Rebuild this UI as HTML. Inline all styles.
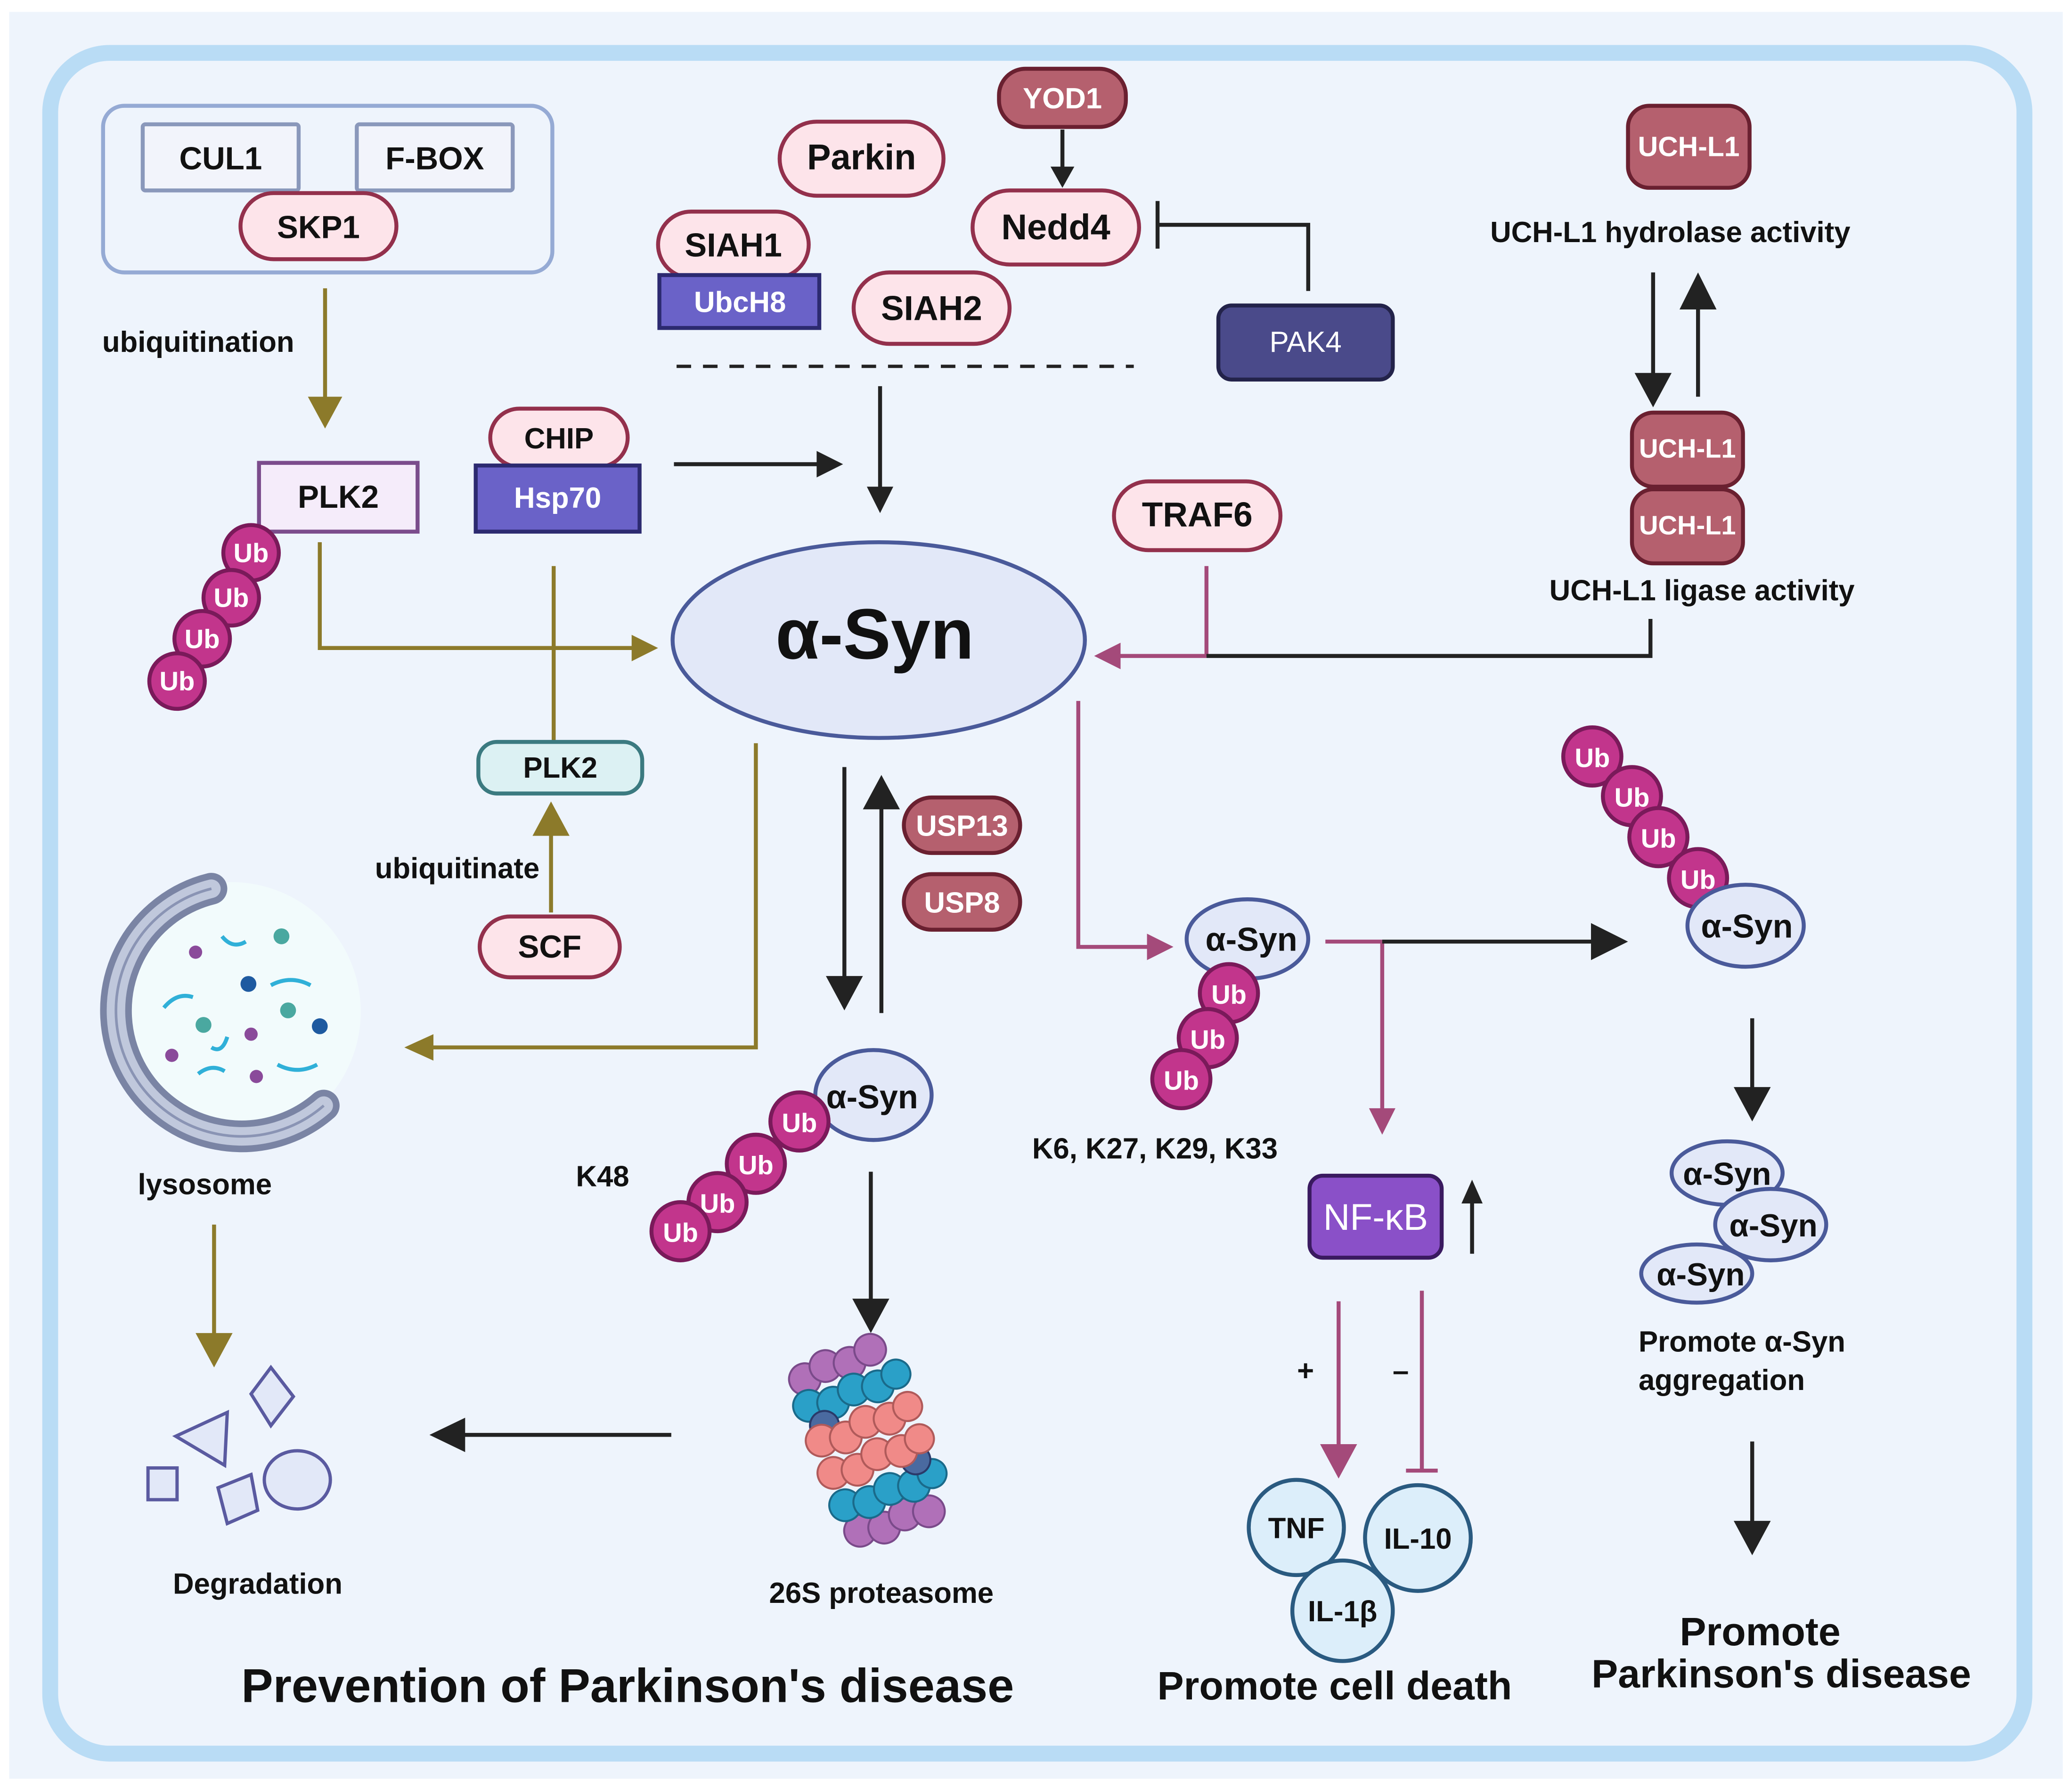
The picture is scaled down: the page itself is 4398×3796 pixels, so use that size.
<!DOCTYPE html>
<html><head><meta charset="utf-8"><style>
html,body{margin:0;padding:0;background:#fff}
svg{display:block}
text{font-family:"Liberation Sans",sans-serif;font-weight:bold;fill:#111}
</style></head><body>
<svg width="4398" height="3796" viewBox="0 0 1568 1352" preserveAspectRatio="none" xmlns="http://www.w3.org/2000/svg">
<rect x="0" y="0" width="1568" height="1352" fill="#fff"/>
<rect x="7" y="9" width="1554" height="1336" fill="#eef4fc"/>
<rect x="38" y="40" width="1494" height="1286" rx="45" fill="#eef4fc" stroke="#b9dcf5" stroke-width="12"/>

<!-- SCF complex -->
<rect x="78" y="80" width="340" height="126" rx="16" fill="none" stroke="#95aad4" stroke-width="3"/>
<rect x="108" y="94" width="118" height="50" rx="2" fill="#f2f4fb" stroke="#8a98bb" stroke-width="3"/>
<text x="167" y="128" font-size="24" text-anchor="middle">CUL1</text>
<rect x="270" y="94" width="118" height="50" rx="2" fill="#f2f4fb" stroke="#8a98bb" stroke-width="3"/>
<text x="329" y="128" font-size="24" text-anchor="middle">F-BOX</text>
<rect x="182" y="146" width="118" height="50" rx="25" fill="#fde4ea" stroke="#93304c" stroke-width="3"/>
<text x="241" y="180" font-size="24" text-anchor="middle">SKP1</text>

<text x="150" y="266" font-size="22" text-anchor="middle">ubiquitination</text>
<line x1="246" y1="218" x2="246" y2="304" stroke="#8c7a2a" stroke-width="3"/>
<path d="M233,300 L259,300 L246,324z" fill="#8c7a2a"/>

<rect x="196" y="350" width="120" height="52" fill="#f5ecfa" stroke="#7b4c8c" stroke-width="3"/>
<text x="256" y="384" font-size="24" text-anchor="middle">PLK2</text>

<circle cx="190" cy="418" r="21" fill="#c2358c" stroke="#7a1a5a" stroke-width="3"/><text x="190" y="425" font-size="20" text-anchor="middle" style="fill:#fff">Ub</text>
<circle cx="175" cy="452" r="21" fill="#c2358c" stroke="#7a1a5a" stroke-width="3"/><text x="175" y="459" font-size="20" text-anchor="middle" style="fill:#fff">Ub</text>
<circle cx="153" cy="483" r="21" fill="#c2358c" stroke="#7a1a5a" stroke-width="3"/><text x="153" y="490" font-size="20" text-anchor="middle" style="fill:#fff">Ub</text>
<circle cx="134" cy="515" r="21" fill="#c2358c" stroke="#7a1a5a" stroke-width="3"/><text x="134" y="522" font-size="20" text-anchor="middle" style="fill:#fff">Ub</text>

<polyline points="242,410 242,490 482,490" fill="none" stroke="#8c7a2a" stroke-width="3"/>
<path d="M478,480 L498,490 L478,500z" fill="#8c7a2a"/>

<rect x="371" y="309" width="104" height="44" rx="22" fill="#fde4ea" stroke="#93304c" stroke-width="3"/>
<text x="423" y="339" font-size="22" text-anchor="middle">CHIP</text>
<rect x="360" y="352" width="124" height="50" fill="#6a62c8" stroke="#2c2a70" stroke-width="3"/>
<text x="422" y="384" font-size="22" text-anchor="middle" style="fill:#fff">Hsp70</text>
<line x1="510" y1="351" x2="622" y2="351" stroke="#222" stroke-width="3"/>
<path d="M618,341 L638,351 L618,361z" fill="#222"/>
<line x1="419" y1="428" x2="419" y2="560" stroke="#8c7a2a" stroke-width="3"/>

<rect x="362" y="561" width="124" height="39" rx="14" fill="#dcf1f3" stroke="#3b7a80" stroke-width="3"/>
<text x="424" y="588" font-size="22" text-anchor="middle">PLK2</text>
<line x1="417" y1="690" x2="417" y2="630" stroke="#8c7a2a" stroke-width="3"/>
<path d="M403,632 L417,606 L431,632z" fill="#8c7a2a"/>
<text x="346" y="664" font-size="22" text-anchor="middle">ubiquitinate</text>
<rect x="363" y="693" width="106" height="46" rx="23" fill="#fde4ea" stroke="#93304c" stroke-width="3"/>
<text x="416" y="724" font-size="24" text-anchor="middle">SCF</text>

<rect x="590" y="92" width="124" height="56" rx="28" fill="#fde4ea" stroke="#93304c" stroke-width="3"/>
<text x="652" y="128" font-size="27" text-anchor="middle">Parkin</text>
<rect x="498" y="160" width="114" height="50" rx="25" fill="#fde4ea" stroke="#93304c" stroke-width="3"/>
<text x="555" y="194" font-size="25" text-anchor="middle">SIAH1</text>
<rect x="499" y="208" width="121" height="40" fill="#6a62c8" stroke="#2c2a70" stroke-width="3"/>
<text x="560" y="236" font-size="22" text-anchor="middle" style="fill:#fff">UbcH8</text>
<rect x="646" y="206" width="118" height="54" rx="27" fill="#fde4ea" stroke="#93304c" stroke-width="3"/>
<text x="705" y="242" font-size="26" text-anchor="middle">SIAH2</text>
<rect x="756" y="52" width="96" height="44" rx="20" fill="#b5606e" stroke="#6a2030" stroke-width="3"/>
<text x="804" y="82" font-size="22" text-anchor="middle" style="fill:#fff">YOD1</text>
<line x1="804" y1="98" x2="804" y2="128" stroke="#222" stroke-width="3"/>
<path d="M795,126 L804,142 L813,126z" fill="#222"/>
<rect x="736" y="144" width="126" height="56" rx="28" fill="#fde4ea" stroke="#93304c" stroke-width="3"/>
<text x="799" y="181" font-size="27" text-anchor="middle">Nedd4</text>
<polyline points="876,170 990,170 990,220" fill="none" stroke="#222" stroke-width="3"/>
<line x1="876" y1="152" x2="876" y2="188" stroke="#222" stroke-width="3"/>
<rect x="922" y="231" width="132" height="56" rx="10" fill="#4a4a8a" stroke="#23234a" stroke-width="3"/>
<text x="988" y="266" font-size="22" text-anchor="middle" style="fill:#fff;font-weight:normal">PAK4</text>
<line x1="512" y1="277" x2="858" y2="277" stroke="#222" stroke-width="2.5" stroke-dasharray="11,9"/>
<line x1="666" y1="292" x2="666" y2="372" stroke="#222" stroke-width="3"/>
<path d="M656,368 L666,388 L676,368z" fill="#222"/>

<ellipse cx="665" cy="484" rx="156" ry="74" fill="#e2e8f8" stroke="#4a5a9a" stroke-width="3"/>
<text x="662" y="498" font-size="54" text-anchor="middle">α-Syn</text>

<rect x="843" y="364" width="126" height="52" rx="26" fill="#fde4ea" stroke="#93304c" stroke-width="3"/>
<text x="906" y="398" font-size="26" text-anchor="middle">TRAF6</text>
<line x1="913" y1="428" x2="913" y2="496" stroke="#a44a7a" stroke-width="3"/>
<line x1="913" y1="496" x2="845" y2="496" stroke="#a44a7a" stroke-width="3"/>
<path d="M848,486 L828,496 L848,506z" fill="#a44a7a"/>
<polyline points="913,496 1249,496 1249,468" fill="none" stroke="#222" stroke-width="3"/>

<rect x="1232" y="80" width="92" height="62" rx="16" fill="#b5606e" stroke="#6a2030" stroke-width="3"/>
<text x="1278" y="118" font-size="21" text-anchor="middle" style="fill:#fff">UCH-L1</text>
<text x="1264" y="183" font-size="22" text-anchor="middle">UCH-L1 hydrolase activity</text>
<line x1="1251" y1="206" x2="1251" y2="290" stroke="#222" stroke-width="3"/>
<path d="M1237,282 L1251,308 L1265,282z" fill="#222"/>
<line x1="1285" y1="300" x2="1285" y2="228" stroke="#222" stroke-width="3"/>
<path d="M1271,234 L1285,206 L1299,234z" fill="#222"/>
<rect x="1235" y="312" width="84" height="56" rx="16" fill="#b5606e" stroke="#6a2030" stroke-width="3"/>
<text x="1277" y="346" font-size="20" text-anchor="middle" style="fill:#fff">UCH-L1</text>
<rect x="1235" y="370" width="84" height="56" rx="16" fill="#b5606e" stroke="#6a2030" stroke-width="3"/>
<text x="1277" y="404" font-size="20" text-anchor="middle" style="fill:#fff">UCH-L1</text>
<text x="1288" y="454" font-size="22" text-anchor="middle">UCH-L1 ligase activity</text>

<polyline points="572,562 572,792 326,792" fill="none" stroke="#8c7a2a" stroke-width="3"/>
<path d="M328,782 L306,792 L328,802z" fill="#8c7a2a"/>
<circle cx="175" cy="765" r="98" fill="#f2fbfc"/>
<path d="M160,672 A95,95 0 1 0 245,836" fill="none" stroke="#7a84a4" stroke-width="24" stroke-linecap="round"/>
<path d="M160,672 A95,95 0 1 0 245,836" fill="none" stroke="#c0c8dc" stroke-width="14" stroke-linecap="round"/>
<path d="M160,672 A95,95 0 1 0 245,836" fill="none" stroke="#8a94b4" stroke-width="2"/>
<g fill="#1e5aa0"><circle cx="188" cy="744" r="6"/><circle cx="242" cy="776" r="6"/></g>
<g fill="#4aa8a0"><circle cx="213" cy="708" r="6"/><circle cx="154" cy="775" r="6"/><circle cx="218" cy="764" r="6"/></g>
<g fill="#8a4a9a"><circle cx="148" cy="720" r="5"/><circle cx="190" cy="782" r="5"/><circle cx="130" cy="798" r="5"/><circle cx="194" cy="814" r="5"/></g>
<g fill="none" stroke="#30b0d8" stroke-width="3"><path d="M168,708 q8,10 18,4"/><path d="M205,745 q15,-8 30,0"/><path d="M124,762 q10,-12 22,-8"/><path d="M150,812 q10,-8 20,-2"/><path d="M210,805 q15,8 30,0"/><path d="M160,792 q8,5 12,-8"/></g>
<text x="155" y="903" font-size="22" text-anchor="middle">lysosome</text>
<line x1="162" y1="926" x2="162" y2="1016" stroke="#8c7a2a" stroke-width="3"/>
<path d="M148,1008 L162,1034 L176,1008z" fill="#8c7a2a"/>

<g fill="#e2e8f8" stroke="#5a5aa0" stroke-width="2.5">
<rect x="112" y="1110" width="22" height="24"/>
<polygon points="133,1086 172,1068 170,1108"/>
<polygon points="190,1054 205,1034 222,1056 205,1078"/>
<polygon points="165,1125 190,1115 195,1142 172,1152"/>
<ellipse cx="225" cy="1119" rx="25" ry="22"/>
</g>
<text x="195" y="1205" font-size="22" text-anchor="middle">Degradation</text>
<line x1="508" y1="1085" x2="345" y2="1085" stroke="#222" stroke-width="3"/>
<path d="M352,1072 L325,1085 L352,1098z" fill="#222"/>

<line x1="639" y1="580" x2="639" y2="745" stroke="#222" stroke-width="3"/>
<path d="M625,738 L639,764 L653,738z" fill="#222"/>
<line x1="667" y1="766" x2="667" y2="610" stroke="#222" stroke-width="3"/>
<path d="M653,612 L667,586 L681,612z" fill="#222"/>
<rect x="684" y="603" width="88" height="42" rx="21" fill="#b5606e" stroke="#6a2030" stroke-width="3"/>
<text x="728" y="632" font-size="22" text-anchor="middle" style="fill:#fff">USP13</text>
<rect x="684" y="661" width="88" height="42" rx="21" fill="#b5606e" stroke="#6a2030" stroke-width="3"/>
<text x="728" y="690" font-size="22" text-anchor="middle" style="fill:#fff">USP8</text>

<ellipse cx="661" cy="828" rx="44" ry="34" fill="#e2e8f8" stroke="#4a5a9a" stroke-width="3"/>
<text x="660" y="838" font-size="25" text-anchor="middle">α-Syn</text>
<circle cx="605" cy="848" r="22" fill="#c2358c" stroke="#7a1a5a" stroke-width="3"/><text x="605" y="856" font-size="20" text-anchor="middle" style="fill:#fff">Ub</text>
<circle cx="572" cy="880" r="22" fill="#c2358c" stroke="#7a1a5a" stroke-width="3"/><text x="572" y="888" font-size="20" text-anchor="middle" style="fill:#fff">Ub</text>
<circle cx="543" cy="909" r="22" fill="#c2358c" stroke="#7a1a5a" stroke-width="3"/><text x="543" y="917" font-size="20" text-anchor="middle" style="fill:#fff">Ub</text>
<circle cx="515" cy="931" r="22" fill="#c2358c" stroke="#7a1a5a" stroke-width="3"/><text x="515" y="939" font-size="20" text-anchor="middle" style="fill:#fff">Ub</text>
<text x="456" y="897" font-size="22" text-anchor="middle">K48</text>
<line x1="659" y1="886" x2="659" y2="990" stroke="#222" stroke-width="3"/>
<path d="M645,982 L659,1008 L673,982z" fill="#222"/>

<!-- proteasome (denser) -->
<g transform="rotate(-20 655 1090)">
<g fill="#b070b8" stroke="#7a4a8a" stroke-width="1.5">
<circle cx="628" cy="1030" r="12"/><circle cx="646" cy="1026" r="12"/><circle cx="664" cy="1030" r="12"/><circle cx="682" cy="1026" r="12"/>
<circle cx="628" cy="1152" r="12"/><circle cx="646" cy="1156" r="12"/><circle cx="664" cy="1152" r="12"/><circle cx="682" cy="1156" r="12"/></g>
<g fill="#2aa0c8" stroke="#1a6a8a" stroke-width="1.5">
<circle cx="624" cy="1050" r="12"/><circle cx="642" cy="1054" r="12"/><circle cx="660" cy="1050" r="12"/><circle cx="678" cy="1054" r="12"/><circle cx="694" cy="1050" r="11"/>
<circle cx="624" cy="1130" r="12"/><circle cx="642" cy="1134" r="12"/><circle cx="660" cy="1130" r="12"/><circle cx="678" cy="1134" r="12"/><circle cx="694" cy="1130" r="11"/></g>
<g fill="#4a6aa0" stroke="#2a3a6a" stroke-width="1.5"><circle cx="630" cy="1068" r="11"/><circle cx="686" cy="1116" r="11"/></g>
<g fill="#f08a88" stroke="#b05a5a" stroke-width="1.5">
<circle cx="624" cy="1078" r="12"/><circle cx="642" cy="1082" r="12"/><circle cx="660" cy="1076" r="12"/><circle cx="678" cy="1080" r="12"/><circle cx="694" cy="1076" r="11"/>
<circle cx="624" cy="1104" r="12"/><circle cx="642" cy="1108" r="12"/><circle cx="660" cy="1102" r="12"/><circle cx="678" cy="1106" r="12"/><circle cx="694" cy="1102" r="11"/></g>
</g>
<text x="667" y="1212" font-size="22" text-anchor="middle">26S proteasome</text>

<text x="475" y="1287" font-size="36" text-anchor="middle">Prevention of Parkinson's disease</text>

<polyline points="816,530 816,716 872,716" fill="none" stroke="#a44a7a" stroke-width="3"/>
<path d="M868,706 L888,716 L868,726z" fill="#a44a7a"/>
<ellipse cx="944" cy="710" rx="46" ry="30" fill="#e2e8f8" stroke="#4a5a9a" stroke-width="3"/>
<text x="947" y="719" font-size="25" text-anchor="middle">α-Syn</text>
<circle cx="930" cy="751" r="22" fill="#c2358c" stroke="#7a1a5a" stroke-width="3"/><text x="930" y="759" font-size="20" text-anchor="middle" style="fill:#fff">Ub</text>
<circle cx="914" cy="785" r="22" fill="#c2358c" stroke="#7a1a5a" stroke-width="3"/><text x="914" y="793" font-size="20" text-anchor="middle" style="fill:#fff">Ub</text>
<circle cx="894" cy="816" r="22" fill="#c2358c" stroke="#7a1a5a" stroke-width="3"/><text x="894" y="824" font-size="20" text-anchor="middle" style="fill:#fff">Ub</text>
<text x="874" y="876" font-size="22" text-anchor="middle">K6, K27, K29, K33</text>
<line x1="1003" y1="712" x2="1046" y2="712" stroke="#a44a7a" stroke-width="3"/>
<line x1="1046" y1="712" x2="1046" y2="842" stroke="#a44a7a" stroke-width="3"/>
<path d="M1036,838 L1046,858 L1056,838z" fill="#a44a7a"/>
<line x1="1046" y1="712" x2="1212" y2="712" stroke="#222" stroke-width="3"/>
<path d="M1204,698 L1232,712 L1204,726z" fill="#222"/>

<rect x="991" y="889" width="100" height="62" rx="10" fill="#8a50c8" stroke="#3a1a60" stroke-width="3"/>
<text x="1041" y="930" font-size="28" text-anchor="middle" style="fill:#fff;font-weight:normal">NF-κB</text>
<line x1="1114" y1="948" x2="1114" y2="908" stroke="#222" stroke-width="3"/>
<path d="M1106,910 L1114,892 L1122,910z" fill="#222"/>
<line x1="1013" y1="984" x2="1013" y2="1100" stroke="#a44a7a" stroke-width="3"/>
<path d="M999,1092 L1013,1118 L1027,1092z" fill="#a44a7a"/>
<text x="988" y="1044" font-size="22" text-anchor="middle">+</text>
<line x1="1076" y1="976" x2="1076" y2="1112" stroke="#a44a7a" stroke-width="3"/>
<line x1="1064" y1="1112" x2="1088" y2="1112" stroke="#a44a7a" stroke-width="3"/>
<text x="1060" y="1044" font-size="22" text-anchor="middle">–</text>
<circle cx="981" cy="1155" r="36" fill="#dceefa" stroke="#2a5a80" stroke-width="3"/>
<text x="981" y="1163" font-size="22" text-anchor="middle">TNF</text>
<circle cx="1073" cy="1163" r="40" fill="#dceefa" stroke="#2a5a80" stroke-width="3"/>
<text x="1073" y="1171" font-size="22" text-anchor="middle">IL-10</text>
<circle cx="1016" cy="1218" r="38" fill="#dceefa" stroke="#2a5a80" stroke-width="3"/>
<text x="1016" y="1226" font-size="22" text-anchor="middle">IL-1β</text>
<text x="1010" y="1285" font-size="30" text-anchor="middle">Promote cell death</text>

<circle cx="1205" cy="572" r="22" fill="#c2358c" stroke="#7a1a5a" stroke-width="3"/><text x="1205" y="580" font-size="20" text-anchor="middle" style="fill:#fff">Ub</text>
<circle cx="1235" cy="602" r="22" fill="#c2358c" stroke="#7a1a5a" stroke-width="3"/><text x="1235" y="610" font-size="20" text-anchor="middle" style="fill:#fff">Ub</text>
<circle cx="1255" cy="633" r="22" fill="#c2358c" stroke="#7a1a5a" stroke-width="3"/><text x="1255" y="641" font-size="20" text-anchor="middle" style="fill:#fff">Ub</text>
<circle cx="1285" cy="664" r="22" fill="#c2358c" stroke="#7a1a5a" stroke-width="3"/><text x="1285" y="672" font-size="20" text-anchor="middle" style="fill:#fff">Ub</text>
<ellipse cx="1321" cy="700" rx="44" ry="31" fill="#e2e8f8" stroke="#4a5a9a" stroke-width="3"/>
<text x="1322" y="709" font-size="25" text-anchor="middle">α-Syn</text>
<line x1="1326" y1="770" x2="1326" y2="828" stroke="#222" stroke-width="3"/>
<path d="M1312,822 L1326,848 L1340,822z" fill="#222"/>
<ellipse cx="1307" cy="887" rx="42" ry="24" fill="#e2e8f8" stroke="#4a5a9a" stroke-width="3"/>
<text x="1307" y="896" font-size="24" text-anchor="middle">α-Syn</text>
<ellipse cx="1340" cy="926" rx="42" ry="27" fill="#e2e8f8" stroke="#4a5a9a" stroke-width="3"/>
<text x="1342" y="935" font-size="24" text-anchor="middle">α-Syn</text>
<ellipse cx="1284" cy="963" rx="42" ry="22" fill="#e2e8f8" stroke="#4a5a9a" stroke-width="3"/>
<text x="1287" y="972" font-size="24" text-anchor="middle">α-Syn</text>
<text x="1240" y="1022" font-size="22">Promote  α-Syn</text>
<text x="1240" y="1051" font-size="22">aggregation</text>
<line x1="1326" y1="1090" x2="1326" y2="1156" stroke="#222" stroke-width="3"/>
<path d="M1312,1150 L1326,1176 L1340,1150z" fill="#222"/>
<text x="1332" y="1244" font-size="30" text-anchor="middle">Promote</text>
<text x="1348" y="1276" font-size="30" text-anchor="middle">Parkinson's disease</text>
</svg>
</body></html>
